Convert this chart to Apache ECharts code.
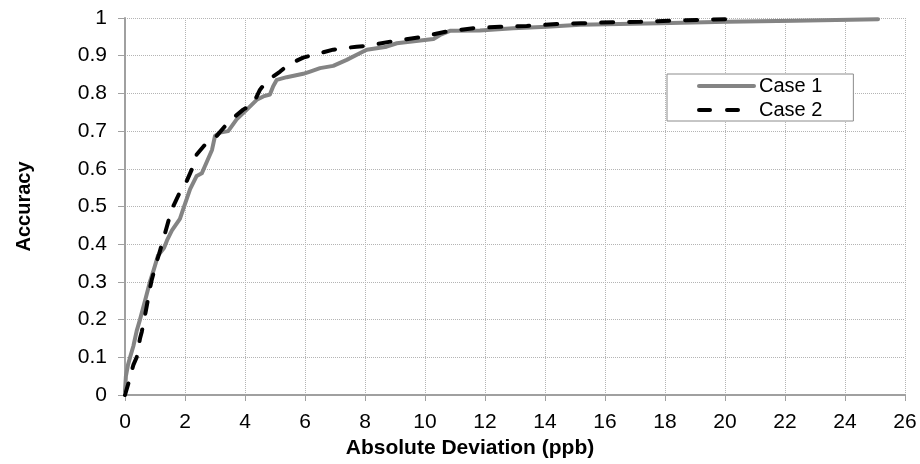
<!DOCTYPE html>
<html>
<head>
<meta charset="utf-8">
<script src="https://cdn.jsdelivr.net/npm/echarts@6/dist/echarts.min.js"></script>
<style>
  html, body { margin: 0; padding: 0; background: #fff; }
  #chart { width: 920px; height: 464px; }
</style>
</head>
<body>
<div id="chart"></div>
<script>
// Cumulative accuracy against absolute deviation (ppb), [deviation, accuracy]
const case1 = [
  [0, 0.01], [0.03, 0.05], [0.1, 0.08], [0.17, 0.1], [0.28, 0.13], [0.39, 0.17],
  [0.5, 0.2], [0.6, 0.23], [0.7, 0.26], [0.83, 0.3], [0.95, 0.33], [1.1, 0.37],
  [1.3, 0.39], [1.4, 0.41], [1.56, 0.436], [1.83, 0.467], [2.0, 0.507], [2.17, 0.546],
  [2.39, 0.581], [2.56, 0.588], [2.67, 0.608], [2.9, 0.65], [3.0, 0.687], [3.17, 0.696],
  [3.44, 0.7], [3.72, 0.731], [4.06, 0.757], [4.39, 0.783], [4.61, 0.792], [4.83, 0.797],
  [4.94, 0.819], [5.06, 0.836], [5.39, 0.843], [5.94, 0.852], [6.17, 0.858], [6.5, 0.867],
  [6.94, 0.873], [7.39, 0.889], [7.94, 0.911], [8.06, 0.916], [8.72, 0.924], [9.06, 0.933],
  [10.28, 0.944], [10.5, 0.955], [10.83, 0.966], [11.83, 0.967], [12.94, 0.973],
  [14.06, 0.977], [15.17, 0.982], [15.6, 0.983], [17.8, 0.986], [20.06, 0.99],
  [22.3, 0.993], [25.1, 0.997]
];
const case2 = [
  [0, 0], [0.11, 0.03], [0.28, 0.08], [0.39, 0.1], [0.5, 0.15], [0.56, 0.168],
  [0.7, 0.225], [0.83, 0.282], [0.89, 0.305], [1.06, 0.355], [1.14, 0.375], [1.28, 0.414],
  [1.39, 0.445], [1.56, 0.493], [1.67, 0.511], [1.89, 0.548], [2.06, 0.568], [2.28, 0.608],
  [2.39, 0.638], [2.72, 0.669], [3.0, 0.682], [3.33, 0.713], [3.61, 0.735], [3.94, 0.757],
  [4.28, 0.773], [4.5, 0.81], [4.72, 0.832], [5.17, 0.858], [5.44, 0.876], [5.94, 0.895],
  [6.94, 0.916], [7.72, 0.924], [8.06, 0.926], [8.9, 0.938], [9.83, 0.949], [10.72, 0.964],
  [11.61, 0.973], [12.5, 0.977], [13.39, 0.979], [14.39, 0.984], [15.2, 0.986],
  [16.28, 0.989], [17.17, 0.99], [18.17, 0.993], [19.06, 0.995], [20.2, 0.997]
];
const seriesNames = ['Case 1', 'Case 2'];
const xAxisTitle = 'Absolute Deviation (ppb)';
const yAxisTitle = 'Accuracy';

const FONT = '"Liberation Sans", Arial, sans-serif';
const chart = echarts.init(document.getElementById('chart'), null, { renderer: 'canvas' });

const gridLine = { show: true, lineStyle: { color: '#b4b4b4', type: [1, 1], width: 1 } };
const case1Line = { color: '#848484', width: 4, cap: 'round', join: 'round' };
const case2Line = { color: '#000000', width: 4, type: [12, 16], cap: 'round', join: 'round' };

chart.setOption({
  animation: false,
  backgroundColor: '#ffffff',
  grid: { left: 125, right: 15, top: 18, bottom: 67, containLabel: false },
  legend: {
    orient: 'vertical',
    left: 667,
    top: 74,
    padding: [2, 31, 1, 30],
    itemGap: 4,
    itemWidth: 55,
    itemHeight: 14,
    borderColor: '#8c8c8c',
    borderWidth: 1,
    backgroundColor: '#ffffff',
    // line-only legend keys: hide the marker drawn on top of the line
    itemStyle: { color: 'rgba(0,0,0,0)', borderWidth: 0, opacity: 0 },
    textStyle: { fontFamily: FONT, fontSize: 20, color: '#000', lineHeight: 20 },
    data: [
      { name: seriesNames[0], lineStyle: case1Line },
      { name: seriesNames[1], lineStyle: { color: '#000000', width: 4, type: [11, 17], cap: 'round' } }
    ]
  },
  xAxis: {
    type: 'value',
    min: 0, max: 26, interval: 2,
    name: xAxisTitle,
    nameLocation: 'middle',
    nameGap: 43,
    nameTextStyle: { fontFamily: FONT, fontSize: 21, fontWeight: 'bold', color: '#000', padding: [0, 90, 0, 0] },
    axisLine: { show: true, lineStyle: { color: '#a0a0a0', width: 2 } },
    axisTick: { show: true, length: 6, lineStyle: { color: '#a0a0a0', width: 1 } },
    axisLabel: { fontFamily: FONT, fontSize: 21, color: '#000', margin: 17 },
    splitLine: gridLine
  },
  yAxis: {
    type: 'value',
    min: 0, max: 1, interval: 0.1,
    name: yAxisTitle,
    nameLocation: 'middle',
    nameGap: 91,
    nameRotate: 90,
    nameTextStyle: { fontFamily: FONT, fontSize: 20, fontWeight: 'bold', color: '#000' },
    axisLine: { show: true, lineStyle: { color: '#a0a0a0', width: 2 } },
    axisTick: { show: true, length: 7, lineStyle: { color: '#a0a0a0', width: 1 } },
    axisLabel: { fontFamily: FONT, fontSize: 21, color: '#000', margin: 18 },
    splitLine: gridLine
  },
  series: [
    {
      name: seriesNames[0],
      type: 'line',
      data: case1,
      symbol: 'none',
      z: 2,
      lineStyle: case1Line,
      itemStyle: { color: '#848484' }
    },
    {
      name: seriesNames[1],
      type: 'line',
      data: case2,
      symbol: 'none',
      z: 3,
      lineStyle: case2Line,
      itemStyle: { color: '#000000' }
    }
  ]
});
</script>
</body>
</html>
